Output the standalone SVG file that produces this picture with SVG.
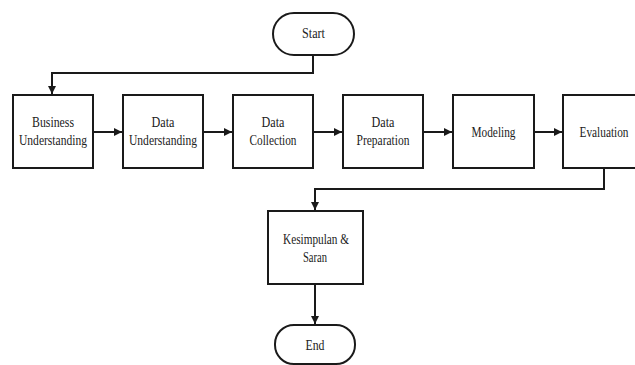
<svg xmlns="http://www.w3.org/2000/svg" width="635" height="365" viewBox="0 0 635 365">
<style>
.box{fill:#fff;stroke:#1a1a1a;stroke-width:2}
.t{font-family:"Liberation Serif","Times New Roman",serif;font-size:15px;fill:#222;text-anchor:middle}
.c{fill:none;stroke:#1a1a1a;stroke-width:2}
</style>
<defs>
<marker id="ah" viewBox="0 0 10 10" refX="10" refY="5" markerWidth="4" markerHeight="4" orient="auto" markerUnits="strokeWidth">
<path d="M0,0 L10,5 L0,10 z" fill="#1a1a1a"/>
</marker>
</defs>
<rect width="635" height="365" fill="#fff"/>
<g id="connectors">
<path class="c" d="M313,55 V73 H52 V94" marker-end="url(#ah)"/>
<path class="c" d="M93,132 H122" marker-end="url(#ah)"/>
<path class="c" d="M203,132 H232" marker-end="url(#ah)"/>
<path class="c" d="M313,132 H342" marker-end="url(#ah)"/>
<path class="c" d="M423,132 H452" marker-end="url(#ah)"/>
<path class="c" d="M534,132 H562" marker-end="url(#ah)"/>
<path class="c" d="M604,168 V189 H315 V210" marker-end="url(#ah)"/>
<path class="c" d="M315,284 V324" marker-end="url(#ah)"/>
</g>
<g id="start">
<rect class="box" x="273" y="13" width="81" height="42" rx="21" ry="21"/>
<text class="t" x="313.5" y="38" textLength="23" lengthAdjust="spacingAndGlyphs">Start</text>
</g>
<g id="business">
<rect class="box" x="13" y="95" width="80" height="73"/>
<text class="t" x="53" y="127" textLength="42" lengthAdjust="spacingAndGlyphs">Business</text>
<text class="t" x="53" y="145" textLength="68" lengthAdjust="spacingAndGlyphs">Understanding</text>
</g>
<g id="data-understanding">
<rect class="box" x="123" y="95" width="80" height="73"/>
<text class="t" x="163" y="127" textLength="23" lengthAdjust="spacingAndGlyphs">Data</text>
<text class="t" x="163" y="145" textLength="68" lengthAdjust="spacingAndGlyphs">Understanding</text>
</g>
<g id="data-collection">
<rect class="box" x="233" y="95" width="80" height="73"/>
<text class="t" x="273" y="127" textLength="23" lengthAdjust="spacingAndGlyphs">Data</text>
<text class="t" x="273" y="145" textLength="47" lengthAdjust="spacingAndGlyphs">Collection</text>
</g>
<g id="data-preparation">
<rect class="box" x="343" y="95" width="80" height="73"/>
<text class="t" x="383" y="127" textLength="23" lengthAdjust="spacingAndGlyphs">Data</text>
<text class="t" x="383" y="145" textLength="53" lengthAdjust="spacingAndGlyphs">Preparation</text>
</g>
<g id="modeling">
<rect class="box" x="453" y="95" width="81" height="73"/>
<text class="t" x="493.5" y="137" textLength="44" lengthAdjust="spacingAndGlyphs">Modeling</text>
</g>
<g id="evaluation">
<rect class="box" x="563" y="95" width="80" height="73"/>
<text class="t" x="604" y="137" textLength="49" lengthAdjust="spacingAndGlyphs">Evaluation</text>
</g>
<g id="kesimpulan">
<rect class="box" x="268" y="211" width="95" height="73"/>
<text class="t" x="316" y="244" textLength="66" lengthAdjust="spacingAndGlyphs">Kesimpulan &amp;</text>
<text class="t" x="315" y="262" textLength="24" lengthAdjust="spacingAndGlyphs">Saran</text>
</g>
<g id="end">
<rect class="box" x="275" y="325" width="80" height="39" rx="19" ry="19"/>
<text class="t" x="315" y="350" textLength="19" lengthAdjust="spacingAndGlyphs">End</text>
</g>
</svg>
